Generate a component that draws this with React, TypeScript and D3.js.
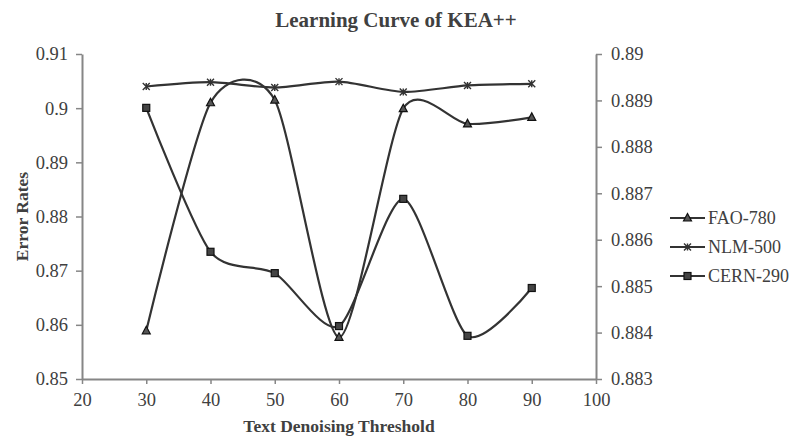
import { useEffect, useRef } from "react";
import * as d3 from "d3";

// thresholds on the x axis
const thresholds = [30, 40, 50, 60, 70, 80, 90];

// error rates
const fao780 = [0.8589, 0.901, 0.9015, 0.8577, 0.8999, 0.8971, 0.8983];
const nlm500 = [0.904, 0.9048, 0.9038, 0.9049, 0.903, 0.9042, 0.9045];
// CERN-290 sits on the secondary (right) axis
const cern290 = [0.88884, 0.88574, 0.88528, 0.88414, 0.88688, 0.88393, 0.88496];

const xTicks = [20, 30, 40, 50, 60, 70, 80, 90, 100];
const leftTicks = [0.85, 0.86, 0.87, 0.88, 0.89, 0.9, 0.91];
const rightTicks = [0.883, 0.884, 0.885, 0.886, 0.887, 0.888, 0.889, 0.89];

const seriesNames = ["FAO-780", "NLM-500", "CERN-290"];
const markerTypes = ["triangle", "star", "square"];

function App() {
  const svgRef = useRef<SVGSVGElement | null>(null);

  useEffect(() => {
    const width = 790;
    const height = 437;
    const margin = { top: 54, right: 194, bottom: 58, left: 82 };
    const lineColor = "#333333";
    const axisColor = "#868686";
    const textColor = "#404040";
    const font = "'Liberation Serif', 'Times New Roman', serif";

    const svg = d3.select(svgRef.current).attr("width", width).attr("height", height);
    svg.selectAll("*").remove();

    const x = d3.scaleLinear().domain([20, 100]).range([margin.left, width - margin.right]);
    const yLeft = d3.scaleLinear().domain([0.85, 0.91]).range([height - margin.bottom, margin.top]);
    const yRight = d3.scaleLinear().domain([0.883, 0.89]).range([height - margin.bottom, margin.top]);

    // axes
    const xAxis = svg.append("g")
      .attr("transform", `translate(0,${height - margin.bottom})`)
      .call(d3.axisBottom(x).tickValues(xTicks).tickSize(5).tickSizeOuter(0).tickPadding(9).tickFormat(d3.format("d")));

    const leftAxis = svg.append("g")
      .attr("transform", `translate(${margin.left},0)`)
      .call(d3.axisLeft(yLeft).tickValues(leftTicks).tickSize(6).tickSizeOuter(0).tickPadding(8).tickFormat((d: any) => String(+d.toFixed(2))));

    const rightAxis = svg.append("g")
      .attr("transform", `translate(${width - margin.right},0)`)
      .call(d3.axisRight(yRight).tickValues(rightTicks).tickSize(6).tickSizeOuter(0).tickPadding(9).tickFormat((d: any) => String(+d.toFixed(3))));

    [xAxis, leftAxis, rightAxis].forEach((a) => {
      a.select(".domain").attr("stroke", axisColor).attr("stroke-width", 2);
      a.selectAll(".tick line").attr("stroke", axisColor).attr("stroke-width", 1.5);
      a.selectAll(".tick text")
        .attr("fill", textColor)
        .style("font-family", font)
        .style("font-size", "18.5px");
    });

    // lines
    const curve = d3.curveCardinal.tension(0.25);
    const data = [
      { name: seriesNames[0], values: fao780, y: yLeft, marker: markerTypes[0] },
      { name: seriesNames[1], values: nlm500, y: yLeft, marker: markerTypes[1] },
      { name: seriesNames[2], values: cern290, y: yRight, marker: markerTypes[2] },
    ];

    const drawMarker = (g: any, type: string, cx: number, cy: number) => {
      if (type === "triangle") {
        g.append("path")
          .attr("d", `M${cx},${cy - 4.5}L${cx + 4},${cy + 3}L${cx - 4},${cy + 3}Z`)
          .attr("fill", "#555")
          .attr("stroke", "#111")
          .attr("stroke-width", 1.2);
      } else if (type === "square") {
        g.append("rect")
          .attr("x", cx - 3.5).attr("y", cy - 3.5)
          .attr("width", 7).attr("height", 7)
          .attr("fill", "#444")
          .attr("stroke", "#111")
          .attr("stroke-width", 1.2);
      } else {
        const s = 3.5;
        g.append("path")
          .attr("d", `M${cx - s},${cy - s}L${cx + s},${cy + s}M${cx - s},${cy + s}L${cx + s},${cy - s}M${cx},${cy - s}L${cx},${cy + s}`)
          .attr("stroke", "#333")
          .attr("stroke-width", 1.4)
          .attr("fill", "none");
      }
    };

    data.forEach((s) => {
      const line = d3.line<number>()
        .x((_, i) => x(thresholds[i]))
        .y((d) => s.y(d))
        .curve(curve);
      svg.append("path")
        .attr("d", line(s.values))
        .attr("fill", "none")
        .attr("stroke", lineColor)
        .attr("stroke-width", 2.2);
    });

    data.forEach((s) => {
      const g = svg.append("g");
      s.values.forEach((v, i) => drawMarker(g, s.marker, x(thresholds[i]), s.y(v)));
    });

    // legend
    const legend = svg.append("g").attr("transform", "translate(670,218)");
    data.forEach((s, i) => {
      const row = legend.append("g").attr("transform", `translate(0,${i * 29})`);
      row.append("line")
        .attr("x1", 0).attr("x2", 35)
        .attr("stroke", lineColor)
        .attr("stroke-width", 2.2);
      drawMarker(row, s.marker, 17.5, 0);
      row.append("text")
        .attr("x", 38)
        .attr("y", 6)
        .attr("fill", textColor)
        .style("font-family", font)
        .style("font-size", "18px")
        .text(s.name);
    });

    // titles
    svg.append("text")
      .attr("x", 396)
      .attr("y", 27)
      .attr("text-anchor", "middle")
      .attr("fill", textColor)
      .style("font-family", font)
      .style("font-size", "21px")
      .style("font-weight", "bold")
      .text("Learning Curve of KEA++");

    svg.append("text")
      .attr("x", (margin.left + width - margin.right) / 2)
      .attr("y", 432)
      .attr("text-anchor", "middle")
      .attr("fill", textColor)
      .style("font-family", font)
      .style("font-size", "17.5px")
      .style("font-weight", "bold")
      .text("Text Denoising Threshold");

    svg.append("text")
      .attr("transform", `translate(28,${(margin.top + height - margin.bottom) / 2}) rotate(-90)`)
      .attr("text-anchor", "middle")
      .attr("fill", textColor)
      .style("font-family", font)
      .style("font-size", "17.5px")
      .style("font-weight", "bold")
      .text("Error Rates");
  }, []);

  return (
    <svg
      ref={svgRef}
      width={790}
      height={437}
      style={{ position: "absolute", left: 0, top: 0, background: "#fff" }}
    ></svg>
  );
}

export default App;
